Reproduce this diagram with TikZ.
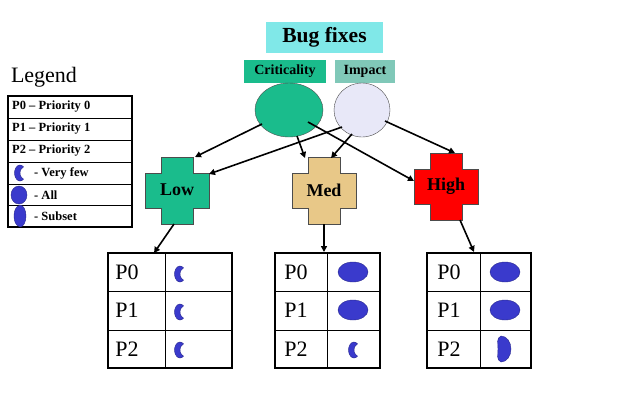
\documentclass[tikz,border=0pt]{standalone}
\usepackage{fontspec}
\setmainfont{Liberation Serif}
\usetikzlibrary{arrows.meta,shapes.geometric}
\definecolor{cyanbox}{HTML}{80E8E8}
\definecolor{teal1}{HTML}{1ABC8C}
\definecolor{teal2}{HTML}{80C8B8}
\definecolor{lav}{HTML}{E8E8F8}
\definecolor{tan}{HTML}{E8C888}
\definecolor{blu}{HTML}{3A3ACC}
\tikzset{
 arr/.style={line width=1.6pt,-{Triangle[length=6pt,width=6pt]}},
 lbl/.style={font=\bfseries\fontsize{14}{16}\selectfont,inner sep=0pt},
 tt/.style={font=\fontsize{22}{24}\selectfont,inner sep=0pt},
 crossbox/.style={minimum width=64pt,minimum height=64pt,inner sep=0pt,font=\bfseries\fontsize{18}{20}\selectfont},
 leg/.style={font=\bfseries\fontsize{12.5}{14}\selectfont,anchor=west,inner sep=0pt},
 blob/.style={fill=blu,draw=blu!70!black,line width=0.4pt}
}
\newcommand{\crossat}[3]{% center x, y, color
 \fill[#3,draw=black!70,line width=0.4pt] ({#1-16},{-(#2-33)}) -- ({#1+16},{-(#2-33)}) -- ({#1+16},{-(#2-17)}) -- ({#1+32},{-(#2-17)}) -- ({#1+32},{-(#2+18)}) -- ({#1+16},{-(#2+18)}) -- ({#1+16},{-(#2+34)}) -- ({#1-16},{-(#2+34)}) -- ({#1-16},{-(#2+18)}) -- ({#1-32},{-(#2+18)}) -- ({#1-32},{-(#2-17)}) -- ({#1-16},{-(#2-17)}) -- cycle;}
\newcommand{\fullblob}[2]{\filldraw[blob] (#1,-#2) ellipse (15pt and 10pt);}
\newcommand{\cblob}[2]{\filldraw[blob] ({#1+3.54},{-#2+6.13}) arc (50:310:5.5pt and 8pt) arc (240.6:119.4:7.04pt) -- cycle;}
\newcommand{\dblob}[2]{\filldraw[blob] ({#1-4},{-#2+13}) arc (90:-90:10pt and 13pt) to[out=160,in=-90] ({#1-7},{-#2}) to[out=90,in=200] cycle;}
\newcommand{\ptable}[4]{% x0 x1 xsplit y0
 \draw[line width=1.8pt] (#1,-#4) rectangle (#2,{-(#4+115)});
 \draw[line width=0.6pt] (#3,-#4) -- (#3,{-(#4+115)});
 \draw[line width=0.6pt] (#1,{-(#4+38)}) -- (#2,{-(#4+38)});
 \draw[line width=0.6pt] (#1,{-(#4+77)}) -- (#2,{-(#4+77)});
}
\begin{document}
\begin{tikzpicture}[x=1pt,y=1pt]
\useasboundingbox (0,0) rectangle (644,-416);
\fill[white] (0,0) rectangle (644,-416);
% header
\node[fill=cyanbox,minimum width=117pt,minimum height=31pt,inner sep=0pt,font=\bfseries\fontsize{21.5}{24}\selectfont] (bug) at (324.5,-37.5) {Bug fixes};
\node[fill=teal1,minimum width=82pt,minimum height=23pt,lbl] (crit) at (285,-71.5) {Criticality};
\node[fill=teal2,minimum width=60pt,minimum height=23pt,lbl] (imp) at (365,-71.5) {Impact};
\node[ellipse,draw=black!70,fill=teal1,minimum width=68pt,minimum height=54pt] (gc) at (289,-110) {};
\node[ellipse,draw=black!70,fill=lav,minimum width=56pt,minimum height=54pt] (ic) at (362,-110) {};
% crosses
\crossat{177}{190}{teal1}
\crossat{324}{190}{tan}
\crossat{446}{186}{red}
\node[crossbox] (low) at (177,-190) {Low};
\node[crossbox] (med) at (324,-190) {Med};
\node[crossbox] (high) at (446,-186) {High};
% arrows
\coordinate (g1) at (262,-124); \coordinate (t1) at (195,-157);
\coordinate (i1) at (342,-127); \coordinate (t2) at (209,-174);
\coordinate (g2) at (297,-136); \coordinate (t3) at (305,-158);
\coordinate (i2) at (352,-134); \coordinate (t4) at (331,-158);
\coordinate (g3) at (308,-122); \coordinate (t5) at (414,-181);
\coordinate (i3) at (385,-121); \coordinate (t6) at (455,-153);
\draw[arr] (g1) -- (t1);
\draw[arr] (i1) -- (t2);
\draw[arr] (g2) -- (t3);
\draw[arr] (i2) -- (t4);
\draw[arr] (g3) -- (t5);
\draw[arr] (i3) -- (t6);
\coordinate (l1) at (174,-224); \coordinate (lt) at (154,-253);
\coordinate (m1) at (324,-224); \coordinate (mt) at (324,-252);
\coordinate (h1) at (460,-220); \coordinate (ht) at (474,-252);
\draw[arr] (l1) -- (lt);
\draw[arr] (m1) -- (mt);
\draw[arr] (h1) -- (ht);
% tables
\ptable{108}{232}{165}{253}
\ptable{275}{380}{327}{253}
\ptable{427}{531}{480}{253}
\foreach \x/\n in {127/a,296/b,449/c}{
 \node[tt] (p0\n) at (\x,-272) {P0};
 \node[tt] (p1\n) at (\x,-310) {P1};
 \node[tt] (p2\n) at (\x,-349) {P2};
}
\cblob{180}{274}\cblob{180}{312}\cblob{180}{350}
\fullblob{353}{272}\fullblob{353}{310}\cblob{354}{350}
\fullblob{505}{272}\fullblob{505}{310}\dblob{505}{349}
% legend
\node[font=\fontsize{22}{24}\selectfont,inner sep=0pt] (legt) at (44,-77) {Legend};
\draw[line width=1.6pt] (8,-96) rectangle (132,-227);
\foreach \y in {118,140,162,184,205}{\draw[line width=0.5pt] (8,-\y) -- (132,-\y);}
\node[leg] (lg1) at (12,-107) {P0 – Priority 0};
\node[leg] (lg2) at (12,-129) {P1 – Priority 1};
\node[leg] (lg3) at (12,-151) {P2 – Priority 2};
\node[leg] (lg4) at (34,-173) {- Very few};
\node[leg] (lg5) at (34,-195) {- All};
\node[leg] (lg6) at (34,-216) {- Subset};
\cblob{20}{173}
\filldraw[blob] (19,-195) ellipse (8pt and 9pt);
\filldraw[blob] (20,-205) arc (90:-90:6pt and 11pt) to[out=160,in=-90] (14,-216) to[out=90,in=200] cycle;
\end{tikzpicture}
\end{document}
